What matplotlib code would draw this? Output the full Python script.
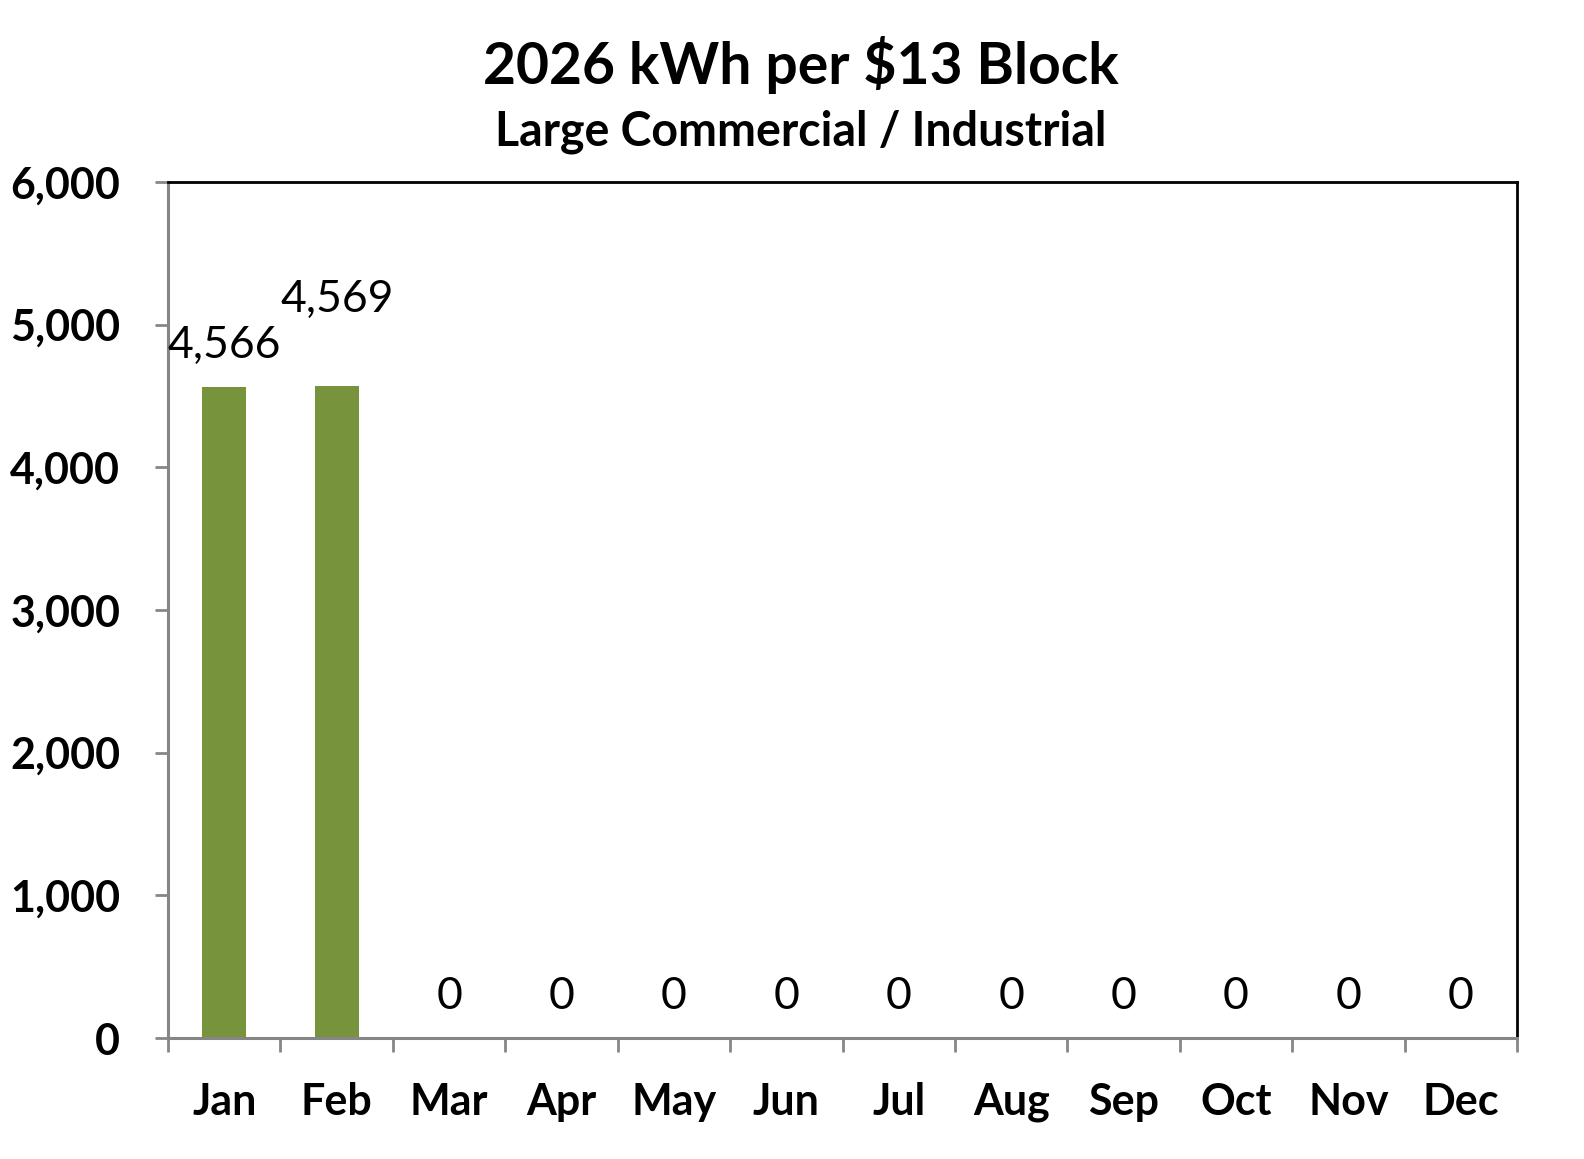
import numpy as np
import matplotlib.pyplot as plt

months = ["Jan", "Feb", "Mar", "Apr", "May", "Jun",
          "Jul", "Aug", "Sep", "Oct", "Nov", "Dec"]
kwh = [4566, 4569, 0, 0, 0, 0, 0, 0, 0, 0, 0, 0]
yticks = [0, 1000, 2000, 3000, 4000, 5000, 6000]

bar_color = "#77933C"
axis_gray = "#868686"
# Feb label was nudged up in the original
label_offsets = [15, 48, 15, 15, 15, 15, 15, 15, 15, 15, 15, 15]

plt.rcParams['font.family'] = ['Lato', 'DejaVu Sans']

fig = plt.figure(figsize=(15.84, 11.59), dpi=100)
ax = fig.add_axes([0.1061, 0.1044, 0.8516, 0.7386])

x = np.arange(len(months))
ax.bar(x, kwh, width=0.39, color=bar_color, zorder=2)

for xi, v, off in zip(x, kwh, label_offsets):
    ax.annotate(f"{v:,}", (xi, v), xytext=(0, off), textcoords="offset points",
                ha="center", va="bottom", fontsize=32)

ax.set_xlim(-0.5, len(months) - 0.5)
ax.set_ylim(0, 6000)
ax.set_yticks(yticks)
ax.set_yticklabels([f"{t:,}" for t in yticks], fontsize=31, fontweight="bold")

# boundary ticks, labels at centres
ax.set_xticks(np.arange(len(months) + 1) - 0.5)
ax.set_xticklabels([])
ax.set_xticks(x, minor=True)
ax.set_xticklabels(months, minor=True, fontsize=31, fontweight="bold")
ax.tick_params(axis="x", which="minor", length=0, pad=32)
ax.tick_params(axis="x", which="major", length=10, width=2, color=axis_gray)
ax.tick_params(axis="y", length=9.5, width=2, color=axis_gray, pad=25)

for side in ["left", "bottom"]:
    ax.spines[side].set_color(axis_gray)
    ax.spines[side].set_linewidth(2.2)
for side in ["top", "right"]:
    ax.spines[side].set_color("black")
    ax.spines[side].set_linewidth(2)

fig.text(801 / 1584, 1 - 65 / 1159, "2026 kWh per $13 Block", ha="center", va="center",
         fontsize=41, fontweight="bold")
fig.text(801 / 1584, 1 - 132 / 1159, "Large Commercial / Industrial", ha="center", va="center",
         fontsize=33.5, fontweight="bold")

fig.savefig("out.png", dpi=100)
